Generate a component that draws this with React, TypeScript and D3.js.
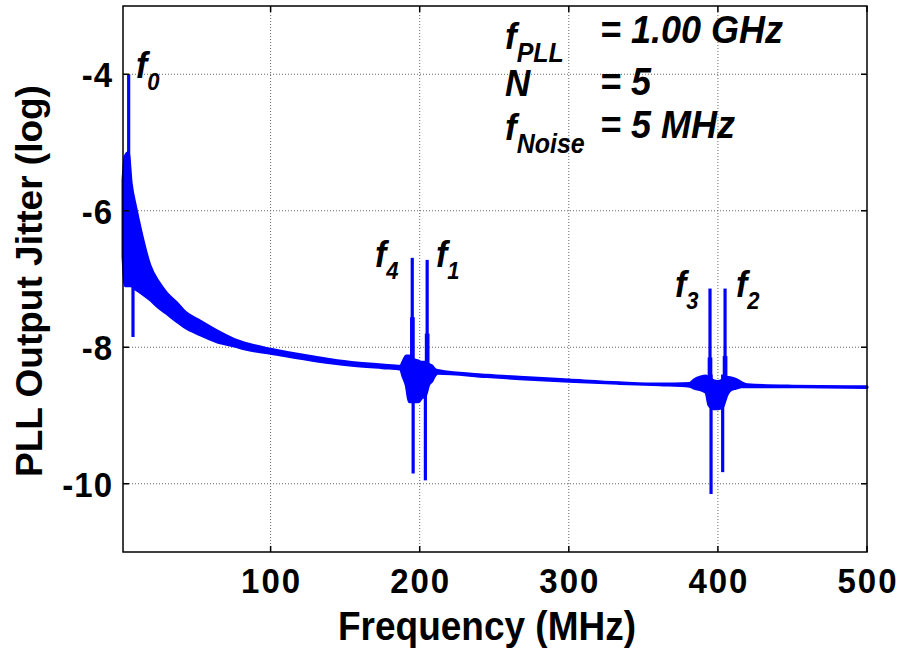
import React from 'react';
import * as d3 from 'd3';

const W = 902;
const H = 652;
const plot = { left: 123, right: 867, top: 6, bottom: 552 };

// jitter trace envelope: frequency (MHz), upper and lower log jitter
const freq = [1, 2.5, 4.5, 6.5, 9.5, 13, 19, 25, 30, 37, 42, 53, 64, 75, 86, 100, 131, 153, 175, 187, 189, 191, 193, 196, 199, 201, 204, 206, 208, 210, 212, 245, 267, 300, 334, 361, 381, 384, 388, 392, 394, 397, 400, 403, 406, 409, 412, 416, 420, 450, 500];
const upper = [-5.55, -5.2, -5.15, -5.6, -5.95, -6.3, -6.8, -7.05, -7.2, -7.35, -7.47, -7.62, -7.76, -7.88, -7.96, -8.03, -8.15, -8.22, -8.26, -8.28, -8.2, -8.13, -8.13, -8.18, -8.2, -8.22, -8.22, -8.25, -8.27, -8.32, -8.34, -8.41, -8.44, -8.48, -8.52, -8.54, -8.53, -8.48, -8.44, -8.42, -8.45, -8.49, -8.5, -8.48, -8.44, -8.45, -8.47, -8.52, -8.55, -8.57, -8.58];
const lower = [-6.67, -7.1, -7.1, -7.1, -7.15, -7.2, -7.3, -7.42, -7.5, -7.62, -7.7, -7.82, -7.92, -7.98, -8.04, -8.09, -8.2, -8.26, -8.3, -8.32, -8.44, -8.56, -8.8, -8.8, -8.8, -8.75, -8.7, -8.55, -8.5, -8.42, -8.38, -8.43, -8.46, -8.5, -8.53, -8.55, -8.57, -8.6, -8.62, -8.66, -8.85, -8.9, -8.9, -8.88, -8.7, -8.62, -8.6, -8.58, -8.58, -8.58, -8.59];

// narrow spurs: frequency (MHz), top and bottom log jitter
const spurFreq = [4.8, 7.7, 195, 194.6, 195.6, 195.6, 203.8, 205, 204.5, 205.5, 394.7, 394.2, 395.2, 395.4, 403.2, 404.8, 404.3, 405.3];
const spurTop = [-4.0, -6.5, -6.69, -7.56, -7.56, -8.3, -8.3, -6.72, -7.8, -7.8, -7.14, -8.15, -8.15, -8.4, -8.4, -7.14, -8.13, -8.13];
const spurBottom = [-6.0, -7.85, -8.2, -8.3, -8.3, -9.85, -9.95, -8.2, -8.3, -8.3, -8.4, -8.5, -8.5, -10.15, -9.83, -8.4, -8.5, -8.5];

// harmonic labels, anchored in data units
const peakSub = ['0', '4', '1', '3', '2'];
const peakFreq = [9.7, 170, 210.9, 371.2, 412.1];
const peakLevel = [-4.06, -6.82, -6.82, -7.26, -7.26];

const xTicks = [100, 200, 300, 400, 500];
const yTicks = [-4, -6, -8, -10];

const paramMain = ['f', 'N', 'f'];
const paramSub = ['PLL', '', 'Noise'];
const paramValue = ['= 1.00 GHz', '= 5', '= 5 MHz'];

const FONT = '"Liberation Sans", Arial, sans-serif';
const STRETCH = 1.08; // glyphs in the figure are a bit taller than wide

const App: React.FC = () => {
  const x = d3.scaleLinear().domain([1, 500]).range([plot.left, plot.right]);
  const y = d3.scaleLinear().domain([-11, -3]).range([plot.bottom, plot.top]);

  const band = freq.map((f, i) => ({ f, hi: upper[i], lo: lower[i] }));
  const area = d3
    .area<{ f: number; hi: number; lo: number }>()
    .x((d) => x(d.f))
    .y0((d) => y(d.lo))
    .y1((d) => y(d.hi))
    .curve(d3.curveMonotoneX);

  const blue = '#0000ff';
  const mainBase = [49, 96, 140];
  const valueBase = [43, 95, 138];
  const at = (px: number, py: number) => `translate(${px},${py}) scale(1,${STRETCH})`;

  return (
    <svg
      width={W}
      height={H}
      style={{ position: 'absolute', left: 0, top: 0, background: '#fff' }}
      fontFamily={FONT}
    >
      {/* grid */}
      <g stroke="#666" strokeWidth={1} strokeDasharray="1,2">
        {xTicks.slice(0, -1).map((t) => (
          <line key={'gx' + t} x1={x(t)} x2={x(t)} y1={plot.top} y2={plot.bottom} />
        ))}
        {yTicks.map((t) => (
          <line key={'gy' + t} x1={plot.left} x2={plot.right} y1={y(t)} y2={y(t)} />
        ))}
      </g>

      {/* trace */}
      <path d={area(band) || ''} fill={blue} stroke={blue} strokeWidth={3} strokeLinejoin="round" />
      <g stroke={blue} strokeWidth={3.2}>
        {spurFreq.map((f, i) => (
          <line key={'s' + i} x1={x(f)} x2={x(f)} y1={y(spurTop[i])} y2={y(spurBottom[i])} />
        ))}
      </g>

      {/* frame and ticks */}
      <rect
        x={plot.left}
        y={plot.top}
        width={plot.right - plot.left}
        height={plot.bottom - plot.top}
        fill="none"
        stroke="#000"
        strokeWidth={1.5}
      />
      <g stroke="#000" strokeWidth={1.5}>
        {xTicks.map((t) => (
          <g key={'tx' + t}>
            <line x1={x(t)} x2={x(t)} y1={plot.bottom} y2={plot.bottom - 6} />
            <line x1={x(t)} x2={x(t)} y1={plot.top} y2={plot.top + 6} />
          </g>
        ))}
        {yTicks.map((t) => (
          <g key={'ty' + t}>
            <line x1={plot.left} x2={plot.left + 6} y1={y(t)} y2={y(t)} />
            <line x1={plot.right} x2={plot.right - 6} y1={y(t)} y2={y(t)} />
          </g>
        ))}
      </g>

      {/* tick labels */}
      <g fontWeight="bold" fontSize={33} fill="#000">
        {xTicks.map((t) => (
          <text key={'lx' + t} transform={at(x(t) + 1, 593)} textAnchor="middle" letterSpacing={2}>
            {t}
          </text>
        ))}
        {yTicks.map((t) => (
          <text key={'ly' + t} transform={at(113, y(t) + 13)} textAnchor="end" letterSpacing={1}>
            {t}
          </text>
        ))}
      </g>

      {/* axis titles */}
      <text transform={at(487, 640)} textAnchor="middle" fontWeight="bold" fontSize={37}>
        Frequency (MHz)
      </text>
      <text transform="translate(42,281) rotate(-90)" textAnchor="middle" fontWeight="bold" fontSize={37}>
        PLL Output Jitter (log)
      </text>

      {/* harmonic labels */}
      <g fontWeight="bold" fontStyle="italic" fill="#000">
        {peakSub.map((s, i) => (
          <text key={'p' + i} transform={at(x(peakFreq[i]), y(peakLevel[i]))} fontSize={34}>
            f
            <tspan fontSize={22} dy={11}>
              {s}
            </tspan>
          </text>
        ))}
      </g>

      {/* parameter block */}
      <g fontWeight="bold" fontStyle="italic" fill="#000">
        {paramMain.map((m, i) => (
          <g key={'pm' + i}>
            <text transform={at(505, mainBase[i])} fontSize={35}>
              {m}
              {paramSub[i] && (
                <tspan fontSize={25} dy={12}>
                  {paramSub[i]}
                </tspan>
              )}
            </text>
            <text transform={at(600, valueBase[i])} fontSize={36}>
              {paramValue[i]}
            </text>
          </g>
        ))}
      </g>
    </svg>
  );
};

export default App;
